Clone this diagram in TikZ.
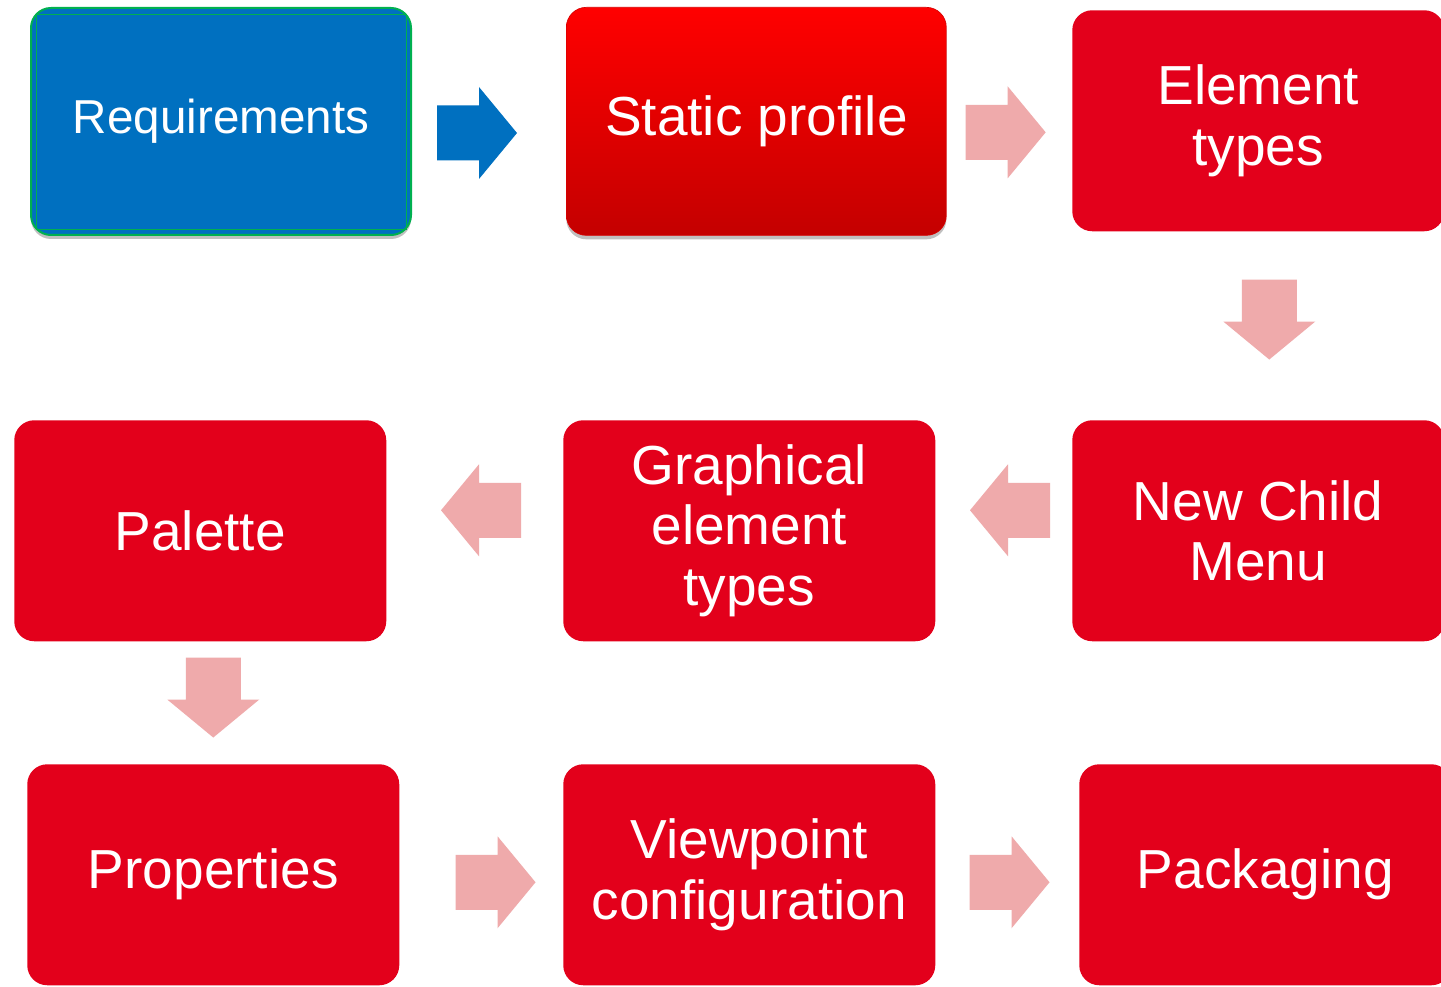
\documentclass[tikz,border=0pt]{standalone}
\usepackage{fontspec}
\setmainfont{Liberation Sans}
\usetikzlibrary{shadows,calc}
\definecolor{boxred}{HTML}{E3001B}
\definecolor{arrowpink}{HTML}{EFAAAB}
\definecolor{reqblue}{HTML}{0070C0}
\definecolor{reqgreen}{HTML}{00B050}
\definecolor{sptop}{HTML}{FF0000}
\definecolor{spbot}{HTML}{C40000}
\tikzset{
  basebox/.style={anchor=north west, rounded corners=15pt, inner sep=0pt,
    text=white, align=center, minimum width=279pt, minimum height=165.75pt,
    font=\fontsize{41.25pt}{45.4pt}\selectfont},
  redbox/.style={basebox, fill=boxred},
  shadowed/.style={drop shadow={shadow xshift=0pt, shadow yshift=-3pt, opacity=0.35, fill=black!70}},
  barrow/.pic={\fill[#1] (0,-27.5) -- (42,-27.5) -- (42,-46) -- (80,0) -- (42,46) -- (42,27.5) -- (0,27.5) -- cycle;}
}
\begin{document}
\begin{tikzpicture}[x=0.75pt,y=-0.75pt]
\useasboundingbox (0,0) rectangle (1441,987);
\clip (0,0) rectangle (1441,987);
\fill[white] (0,0) rectangle (1441,987);
% boxes
\node[basebox, shadowed, fill=reqblue, draw=reqgreen, line width=1.5pt,
  minimum width=285pt, minimum height=170.25pt,
  font=\fontsize{35.7pt}{40pt}\selectfont] (req) at (30,7) {Requirements};
\draw[reqgreen, line width=0.6pt] ($(req.north west)+(6,7)$) rectangle ($(req.south east)+(-6,-7)$);
\node[basebox, shadowed, top color=sptop, bottom color=spbot, draw=red!85!black, line width=0.5pt,
  minimum width=285pt, minimum height=171pt] (sp) at (566,7) {Static profile};
\node[redbox] (et) at (1072,10) {Element\\types};
\node[redbox] (ne) at (1072,420) {New Child\\Menu};
\node[redbox] (ge) at (563,420) {Graphical\\element\\types};
\node[redbox] (pal) at (14,420) {Palette};
\node[redbox] (prop) at (27,764) {Properties};
\node[redbox] (vp) at (563,764) {Viewpoint\\configuration};
\node[redbox] (pk) at (1079,764) {Packaging};
% block arrows between nodes
\pic at ($(req.east)+(25,11.5)$) {barrow=reqblue};
\pic at ($(sp.east)+(19,11)$) {barrow=arrowpink};
\pic[rotate=-90] at ($(et.south)+(11,48)$) {barrow=arrowpink};
\pic[rotate=180] at ($(ne.west)+(-22,-20.5)$) {barrow=arrowpink};
\pic[rotate=180] at ($(ge.west)+(-42,-20.5)$) {barrow=arrowpink};
\pic[rotate=-90] at ($(pal.south)+(13,16)$) {barrow=arrowpink};
\pic at ($(prop.east)+(56,7.5)$) {barrow=arrowpink};
\pic at ($(vp.east)+(34,7.5)$) {barrow=arrowpink};
\end{tikzpicture}
\end{document}
